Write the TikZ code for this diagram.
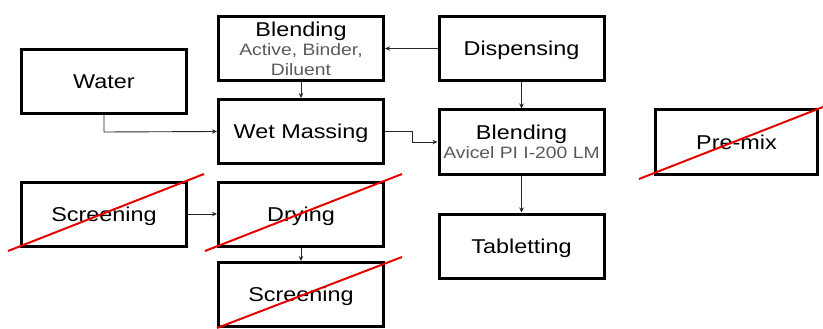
\documentclass[tikz,border=0pt]{standalone}
\usepackage{fontspec}
\setmainfont{Liberation Sans}[FakeStretch=1.17]
\usetikzlibrary{arrows.meta,calc}
\definecolor{subgray}{HTML}{5A5A5A}
\tikzset{
  procbox/.style={draw=black, line width=3pt, minimum width=165pt, minimum height=64pt, inner sep=0pt, align=center, font=\fontsize{20}{22}\selectfont, text=black, text depth=0pt},
  conn/.style={draw=black!85, line width=0.9pt, -{Stealth[length=5pt,width=4.5pt]}},
  cross/.style={draw=red!90!black, line width=2pt}
}
\newcommand{\subtxt}[1]{{\fontsize{16.5}{19}\selectfont\color{subgray}#1}}
\begin{document}
\begin{tikzpicture}[x=1pt,y=-1pt]
\useasboundingbox (0,0) rectangle (823,329);
\node[procbox] (water) at (104,81.5) {Water};
\node[procbox] (blend1) at (301,48.5) {Blending\\[-3pt]\subtxt{Active, Binder,}\\[-2pt]\subtxt{Diluent}};
\node[procbox] (wet) at (301,131.5) {Wet Massing};
\node[procbox] (disp) at (521.5,48.5) {Dispensing};
\node[procbox] (blend2) at (521.5,142) {Blending\\[-3pt]\subtxt{Avicel PI I-200 LM}};
\node[procbox, minimum width=162pt] (premix) at (736.5,142) {Pre-mix};
\node[procbox] (tab) at (521.5,246) {Tabletting};
\node[procbox] (scr1) at (104,214) {Screening};
\node[procbox] (dry) at (301,214) {Drying};
\node[procbox] (scr2) at (301,294.5) {Screening};

\coordinate (wbend) at (104,132);
\coordinate (m1) at (412,131.5);
\coordinate (m2) at (412,142);

\draw[conn] (disp.west) -- (blend1.east);
\draw[conn] (blend1.south) -- (wet.north);
\draw[conn] (water.south) -- (wbend) -- (wet.west);
\draw[conn] (wet.east) -- (m1) -- (m2) -- (blend2.west);
\draw[conn] (disp.south) -- (blend2.north);
\draw[conn] (blend2.south) -- (tab.north);
\draw[conn] (scr1.east) -- (dry.west);
\draw[conn] (dry.south) -- (scr2.north);

\draw[cross] (8,251) -- (204,174);
\draw[cross] (205,251) -- (402,174);
\draw[cross] (217,328) -- (402,257);
\draw[cross] (639,179) -- (823,107);
\end{tikzpicture}
\end{document}
